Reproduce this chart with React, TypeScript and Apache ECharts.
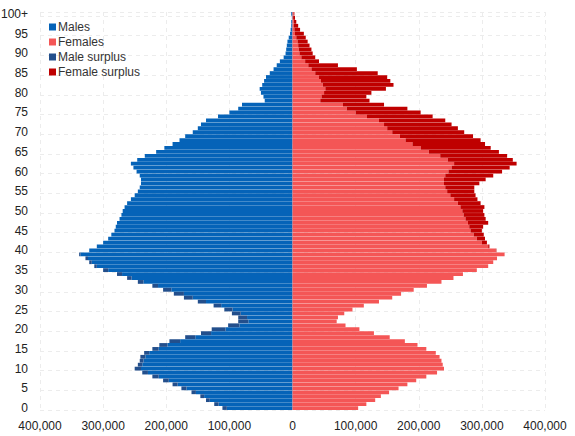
import React, { useEffect, useRef } from "react";
import * as echarts from "echarts";

const ages: string[] = Array.from({ length: 101 }, (_, i) => (i === 100 ? "100+" : String(i)));

// population in thousands, by single year of age 0..100+
const malesK: number[] = [
  111, 124, 137, 146, 160, 176, 190, 205, 222, 238,
  250, 245, 242, 241, 235, 222, 211, 195, 170, 145,
  128, 102, 86, 86, 96, 108, 125, 150, 172, 188,
  205, 222, 245, 262, 278, 300, 314, 322, 328, 338,
  322, 310, 300, 292, 287, 282, 280, 278, 274, 271,
  269, 266, 262, 256, 250, 245, 242, 240, 240, 242,
  247, 252, 256, 246, 234, 216, 203, 190, 179, 170,
  158, 150, 145, 137, 118, 100, 86, 80, 44, 46,
  50, 52, 48, 45, 42, 36, 30, 25, 20, 14,
  11, 10, 9, 8, 6, 4, 3, 2, 2, 1,
  2,
];

const femalesK: number[] = [
  104, 117, 131, 140, 153, 168, 182, 196, 212, 229,
  240, 238, 236, 233, 227, 212, 198, 178, 154, 129,
  106, 84, 70, 72, 82, 95, 113, 137, 158, 172,
  192, 213, 236, 255, 270, 292, 310, 318, 324, 336,
  323, 312, 308, 305, 303, 300, 302, 310, 306, 304,
  302, 304, 298, 293, 290, 288, 288, 296, 306, 318,
  332, 344, 355, 349, 340, 327, 314, 305, 298, 286,
  272, 262, 252, 242, 222, 203, 182, 145, 122, 117,
  125, 148, 160, 155, 150, 135, 102, 72, 42, 36,
  32, 30, 27, 24, 21, 18, 12, 9, 6, 4,
  3,
];

const xTicks: number[] = [-400000, -300000, -200000, -100000, 0, 100000, 200000, 300000, 400000];

const UNIT = 1000;

export default function App() {
  const ref = useRef<HTMLDivElement>(null);
  useEffect(() => {
    if (!ref.current) return;
    const chart = echarts.init(ref.current, null, { renderer: "svg" });
    const males = malesK.map((v) => v * UNIT);
    const females = femalesK.map((v) => v * UNIT);
    const common = males.map((m, i) => Math.min(m, females[i]));
    const maleBase = common.map((v) => -v);
    const maleSurplus = males.map((m, i) => -Math.max(m - females[i], 0));
    const femaleBase = common.slice();
    const femaleSurplus = females.map((f, i) => Math.max(f - males[i], 0));

    const barCommon = {
      type: "bar" as const,
      stack: "all",
      barCategoryGap: "4%",
      silent: true,
    };

    chart.setOption({
      animation: false,
      textStyle: { fontFamily: "Liberation Sans, Arial, sans-serif" },
      legend: {
        orient: "vertical",
        left: 44,
        top: 16,
        itemWidth: 7,
        itemHeight: 7,
        itemGap: 3,
        icon: "rect",
        textStyle: { fontSize: 12, color: "#333", padding: [0, 0, 0, -3] },
        data: ["Males", "Females", "Male surplus", "Female surplus"],
      },
      grid: {
        left: 40,
        right: 30,
        top: 12,
        bottom: 26,
        containLabel: false,
        outerBoundsMode: "none",
      },
      xAxis: {
        type: "value",
        min: xTicks[0],
        max: xTicks[xTicks.length - 1],
        interval: 100000,
        name: "Population",
        nameLocation: "middle",
        nameGap: 23,
        nameTextStyle: { fontSize: 12, color: "#222" },
        axisLine: { show: false },
        axisTick: { show: false },
        axisLabel: {
          fontSize: 12,
          color: "#222",
          margin: 10,
          formatter: (v: number) => Math.abs(v).toLocaleString("en-US"),
        },
        splitLine: { show: true, lineStyle: { color: "#ececec", type: [4, 4] } },
      },
      yAxis: {
        type: "category",
        data: ages,
        name: "Age",
        nameLocation: "middle",
        nameGap: 33,
        nameTextStyle: { fontSize: 12, color: "#222" },
        axisLine: { show: false },
        axisTick: { show: false },
        axisLabel: { interval: 4, fontSize: 12, color: "#222", margin: 12 },
        splitLine: { show: true, interval: 4, lineStyle: { color: "#ececec", type: [4, 4] } },
      },
      series: [
        { ...barCommon, name: "Males", data: maleBase, itemStyle: { color: "#0563b8" } },
        { ...barCommon, name: "Females", data: femaleBase, itemStyle: { color: "#f45656" } },
        { ...barCommon, name: "Male surplus", data: maleSurplus, itemStyle: { color: "#234f8c" } },
        { ...barCommon, name: "Female surplus", data: femaleSurplus, itemStyle: { color: "#bf0000" } },
      ],
    });
    return () => chart.dispose();
  }, []);
  return (
    <div
      ref={ref}
      style={{ position: "fixed", left: 0, top: 0, width: 575, height: 436, background: "#fff" }}
    />
  );
}
